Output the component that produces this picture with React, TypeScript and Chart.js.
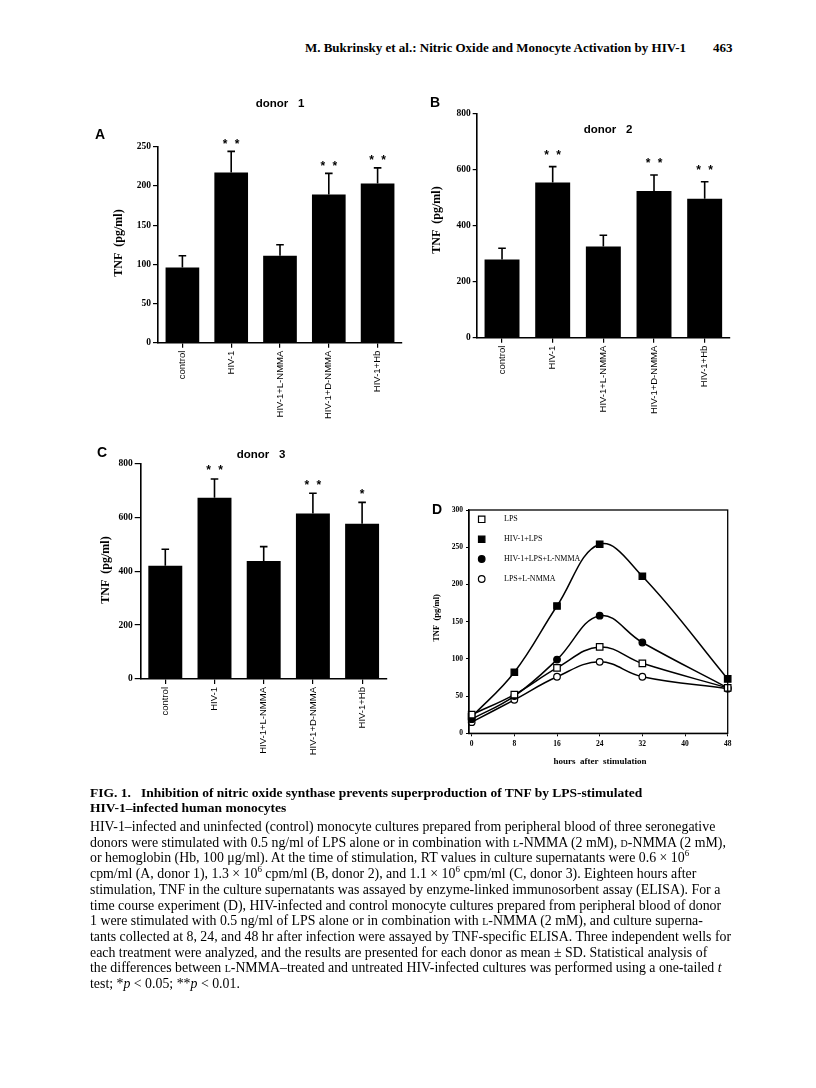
import React, { useEffect, useRef } from "react";
import { Chart, registerables } from "chart.js";

Chart.register(...registerables);

// ---------- data ----------
const categories = ["control", "HIV-1", "HIV-1+L-NMMA", "HIV-1+D-NMMA", "HIV-1+Hb"];

const donor1Values = [96, 217, 111, 189, 203];
const donor1Errors = [15, 27, 14, 27, 20];
const donor1Stars = ["", "**", "", "**", "**"];

const donor2Values = [279, 553, 325, 523, 495];
const donor2Errors = [40, 57, 40, 57, 61];
const donor2Stars = ["", "**", "", "**", "**"];

const donor3Values = [420, 672, 438, 614, 576];
const donor3Errors = [61, 70, 53, 75, 79];
const donor3Stars = ["", "**", "", "**", "*"];

const yTicksA = [0, 50, 100, 150, 200, 250];
const yTicksBC = [0, 200, 400, 600, 800];

const hours = [0, 8, 16, 24, 32, 48];
const lpsSeries = [25, 52, 88, 116, 94, 61];
const hivLpsSeries = [22, 82, 171, 254, 211, 73];
const hivLpsLnmmaSeries = [19, 50, 99, 158, 122, 61];
const lpsLnmmaSeries = [15, 45, 76, 96, 76, 60];
const seriesLabels = ["LPS", "HIV-1+LPS", "HIV-1+LPS+L-NMMA", "LPS+L-NMMA"];
const xTicksD = [0, 8, 16, 24, 32, 40, 48];
const yTicksD = [0, 50, 100, 150, 200, 250, 300];

const SERIF = '"Liberation Serif", "Times New Roman", serif';
const SANS = '"Liberation Sans", Arial, sans-serif';

type Box = { left: number; top: number; width: number; height: number };

type BarPanelProps = {
  box: Box;
  yAxisWidth: number;
  padTop: number;
  padRight: number;
  xAxisHeight: number;
  values: number[];
  errors: number[];
  stars: string[];
  yMax: number;
  yTicks: number[];
  tickLength: number;
  starOffset: number;
  letter: [string, number, number];
  title: [string, number, number];
  yTitle: [number, number];
};

function BarPanel(p: BarPanelProps) {
  const ref = useRef<HTMLCanvasElement | null>(null);
  useEffect(() => {
    if (!ref.current) return;
    const ox = p.box.left;
    const oy = p.box.top;
    const decor = {
      id: "barDecor",
      afterDatasetsDraw(chart: any) {
        const ctx = chart.ctx;
        const meta = chart.getDatasetMeta(0);
        const yScale = chart.scales.y;
        ctx.save();
        ctx.strokeStyle = "#000";
        ctx.fillStyle = "#000";
        ctx.lineWidth = 1.6;
        meta.data.forEach((bar: any, i: number) => {
          const x = bar.x;
          const yTop = bar.y;
          const yErr = yScale.getPixelForValue(p.values[i] + p.errors[i]);
          ctx.beginPath();
          ctx.moveTo(x, yTop);
          ctx.lineTo(x, yErr);
          ctx.moveTo(x - 3.8, yErr);
          ctx.lineTo(x + 3.8, yErr);
          ctx.stroke();
          const s = p.stars[i];
          if (s) {
            ctx.font = `bold 12px ${SANS}`;
            ctx.textAlign = "center";
            ctx.textBaseline = "middle";
            const sy = yErr - p.starOffset;
            if (s.length === 1) ctx.fillText("*", x, sy);
            else {
              ctx.fillText("*", x - 6, sy);
              ctx.fillText("*", x + 6, sy);
            }
          }
        });
        // panel letter
        ctx.font = `bold 14px ${SANS}`;
        ctx.textAlign = "center";
        ctx.textBaseline = "middle";
        ctx.fillText(p.letter[0], p.letter[1] - ox, p.letter[2] - oy);
        // title
        ctx.font = `bold 11.5px ${SANS}`;
        ctx.fillText(p.title[0], p.title[1] - ox, p.title[2] - oy);
        // y title
        ctx.save();
        ctx.translate(p.yTitle[0] - ox, p.yTitle[1] - oy);
        ctx.rotate(-Math.PI / 2);
        ctx.font = `bold 12px ${SERIF}`;
        ctx.fillText("TNF  (pg/ml)", 0, 0);
        ctx.restore();
        ctx.restore();
      },
    };
    const chart = new Chart(ref.current, {
      type: "bar",
      data: {
        labels: categories,
        datasets: [
          {
            data: p.values,
            backgroundColor: "#000",
            borderWidth: 0,
            barPercentage: 0.69,
            categoryPercentage: 1,
          },
        ],
      },
      options: {
        animation: false,
        responsive: false,
        devicePixelRatio: 1,
        layout: { padding: { left: 0, top: p.padTop, right: p.padRight, bottom: 0 } },
        plugins: { legend: { display: false }, tooltip: { enabled: false }, title: { display: false } },
        scales: {
          x: {
            type: "category",
            offset: true,
            grid: {
              display: true,
              offset: false,
              drawOnChartArea: false,
              drawTicks: true,
              tickLength: 5,
              color: "#000",
              lineWidth: 1.2,
            },
            border: { display: true, color: "#000", width: 1.6 },
            ticks: {
              autoSkip: false,
              minRotation: 90,
              maxRotation: 90,
              padding: 3,
              color: "#000",
              font: { family: SANS, size: 9.5 },
            },
            afterFit: (s: any) => {
              s.height = p.xAxisHeight;
            },
          },
          y: {
            min: 0,
            max: p.yMax,
            afterBuildTicks: (s: any) => {
              s.ticks = p.yTicks.map((v) => ({ value: v }));
            },
            grid: {
              display: true,
              drawOnChartArea: false,
              drawTicks: true,
              tickLength: p.tickLength,
              color: "#000",
              lineWidth: 1.2,
            },
            border: { display: true, color: "#000", width: 1.6 },
            ticks: {
              padding: 2,
              color: "#000",
              font: { family: SERIF, size: 9.5, weight: "bold" },
            },
            afterFit: (s: any) => {
              s.width = p.yAxisWidth;
            },
          },
        },
      } as any,
      plugins: [decor],
    });
    return () => chart.destroy();
  }, []);
  return (
    <canvas
      ref={ref}
      width={p.box.width}
      height={p.box.height}
      style={{ position: "absolute", left: p.box.left, top: p.box.top, width: p.box.width, height: p.box.height }}
    />
  );
}

function LinePanel() {
  const ref = useRef<HTMLCanvasElement | null>(null);
  const box: Box = { left: 430, top: 500, width: 330, height: 290 };
  useEffect(() => {
    if (!ref.current) return;
    const ox = box.left;
    const oy = box.top;
    const styles = [
      { style: "rect", fill: "#fff", r: 4.6 },
      { style: "rect", fill: "#000", r: 4.6 },
      { style: "circle", fill: "#000", r: 3.3 },
      { style: "circle", fill: "#fff", r: 3.3 },
    ];
    const seriesData = [lpsSeries, hivLpsSeries, hivLpsLnmmaSeries, lpsLnmmaSeries];
    const decor = {
      id: "lineDecor",
      afterDraw(chart: any) {
        const ctx = chart.ctx;
        const a = chart.chartArea;
        ctx.save();
        ctx.strokeStyle = "#000";
        ctx.fillStyle = "#000";
        ctx.lineWidth = 1.3;
        ctx.strokeRect(a.left, a.top, a.right - a.left, a.bottom - a.top);
        // legend
        const rows = [519.3, 539.3, 559, 579];
        chart.data.datasets.forEach((ds: any, i: number) => {
          const mx = 481.7 - ox;
          const my = rows[i] - oy;
          const st = styles[i];
          ctx.lineWidth = 1.2;
          ctx.beginPath();
          if (st.style === "rect") {
            ctx.rect(mx - 3.2, my - 3.2, 6.4, 6.4);
          } else {
            ctx.arc(mx, my, st.r, 0, Math.PI * 2);
          }
          ctx.fillStyle = st.fill;
          ctx.fill();
          ctx.stroke();
          ctx.fillStyle = "#000";
          ctx.font = `8px ${SERIF}`;
          ctx.textAlign = "left";
          ctx.textBaseline = "middle";
          ctx.fillText(ds.label, 504 - ox, my);
        });
        // letter
        ctx.font = `bold 14px ${SANS}`;
        ctx.textAlign = "center";
        ctx.textBaseline = "middle";
        ctx.fillText("D", 437 - ox, 510 - oy);
        // x title
        ctx.font = `bold 9px ${SERIF}`;
        ctx.fillText("hours  after  stimulation", 600 - ox, 762 - oy);
        // y title
        ctx.save();
        ctx.translate(437 - ox, 618 - oy);
        ctx.rotate(-Math.PI / 2);
        ctx.font = `bold 8.5px ${SERIF}`;
        ctx.fillText("TNF  (pg/ml)", 0, 0);
        ctx.restore();
        ctx.restore();
      },
    };
    const chart = new Chart(ref.current, {
      type: "line",
      data: {
        datasets: seriesData.map((s, i) => ({
          label: seriesLabels[i],
          data: hours.map((h, j) => ({ x: h, y: s[j] })),
          borderColor: "#000",
          borderWidth: 1.5,
          tension: 0.4,
          fill: false,
          clip: false,
          pointStyle: styles[i].style,
          pointRadius: styles[i].r,
          pointBackgroundColor: styles[i].fill,
          pointBorderColor: "#000",
          pointBorderWidth: 1.2,
        })),
      },
      options: {
        animation: false,
        responsive: false,
        devicePixelRatio: 1,
        layout: { padding: { left: 0, top: 10, right: 32.3, bottom: 0 } },
        plugins: { legend: { display: false }, tooltip: { enabled: false } },
        scales: {
          x: {
            type: "linear",
            min: -0.5,
            max: 48,
            afterBuildTicks: (s: any) => {
              s.ticks = xTicksD.map((v) => ({ value: v }));
            },
            grid: { display: true, drawOnChartArea: false, drawTicks: true, tickLength: 3, color: "#000", lineWidth: 1 },
            border: { display: true, color: "#000", width: 1.3 },
            ticks: { padding: 3, color: "#000", maxRotation: 0, font: { family: SERIF, size: 7.5, weight: "bold" } },
            afterFit: (s: any) => {
              s.height = 56.7;
            },
          },
          y: {
            type: "linear",
            min: 0,
            max: 300,
            afterBuildTicks: (s: any) => {
              s.ticks = yTicksD.map((v) => ({ value: v }));
            },
            grid: { display: true, drawOnChartArea: false, drawTicks: true, tickLength: 3, color: "#000", lineWidth: 1 },
            border: { display: true, color: "#000", width: 1.3 },
            ticks: { padding: 3, color: "#000", font: { family: SERIF, size: 7.5, weight: "bold" } },
            afterFit: (s: any) => {
              s.width = 39;
            },
          },
        },
      } as any,
      plugins: [decor],
    });
    return () => chart.destroy();
  }, []);
  return (
    <canvas
      ref={ref}
      width={box.width}
      height={box.height}
      style={{ position: "absolute", left: box.left, top: box.top, width: box.width, height: box.height }}
    />
  );
}

const sc = (t: string) => <span style={{ fontVariant: "small-caps" }}>{t}</span>;
const sup = (t: string) => (
  <span style={{ fontSize: "9px", verticalAlign: "super", lineHeight: 0 }}>{t}</span>
);

const captionLines: React.ReactNode[] = [
  <>HIV-1–infected and uninfected (control) monocyte cultures prepared from peripheral blood of three seronegative</>,
  <>donors were stimulated with 0.5 ng/ml of LPS alone or in combination with {sc("l")}-NMMA (2 mM), {sc("d")}-NMMA (2 mM),</>,
  <>or hemoglobin (Hb, 100 μg/ml). At the time of stimulation, RT values in culture supernatants were 0.6 × 10{sup("6")}</>,
  <>cpm/ml (A, donor 1), 1.3 × 10{sup("6")} cpm/ml (B, donor 2), and 1.1 × 10{sup("6")} cpm/ml (C, donor 3). Eighteen hours after</>,
  <>stimulation, TNF in the culture supernatants was assayed by enzyme-linked immunosorbent assay (ELISA). For a</>,
  <>time course experiment (D), HIV-infected and control monocyte cultures prepared from peripheral blood of donor</>,
  <>1 were stimulated with 0.5 ng/ml of LPS alone or in combination with {sc("l")}-NMMA (2 mM), and culture superna-</>,
  <>tants collected at 8, 24, and 48 hr after infection were assayed by TNF-specific ELISA. Three independent wells for</>,
  <>each treatment were analyzed, and the results are presented for each donor as mean ± SD. Statistical analysis of</>,
  <>the differences between {sc("l")}-NMMA–treated and untreated HIV-infected cultures was performed using a one-tailed <i>t</i></>,
  <>test; *<i>p</i> &lt; 0.05; **<i>p</i> &lt; 0.01.</>,
];

export default function App() {
  return (
    <div
      style={{
        position: "absolute",
        left: 0,
        top: 0,
        width: 816,
        height: 1088,
        background: "#fff",
        color: "#000",
        fontFamily: SERIF,
        overflow: "hidden",
      }}
    >
      <div
        style={{
          position: "absolute",
          right: 130,
          top: 40,
          fontSize: 13,
          lineHeight: "15px",
          fontWeight: "bold",
          whiteSpace: "nowrap",
        }}
      >
        M. Bukrinsky et al.: Nitric Oxide and Monocyte Activation by HIV-1
      </div>
      <div style={{ position: "absolute", left: 713, top: 40, fontSize: 13, lineHeight: "15px", fontWeight: "bold" }}>463</div>

      <BarPanel
        box={{ left: 90, top: 80, width: 320, height: 350 }}
        yAxisWidth={68}
        padTop={66.7}
        padRight={8}
        xAxisHeight={87.3}
        values={donor1Values}
        errors={donor1Errors}
        stars={donor1Stars}
        yMax={250}
        yTicks={yTicksA}
        tickLength={5}
        starOffset={7}
        letter={["A", 100, 135]}
        title={["donor   1", 280, 104]}
        yTitle={[119, 243]}
      />
      <BarPanel
        box={{ left: 410, top: 80, width: 340, height: 340 }}
        yAxisWidth={66.7}
        padTop={33.3}
        padRight={20}
        xAxisHeight={82.3}
        values={donor2Values}
        errors={donor2Errors}
        stars={donor2Stars}
        yMax={800}
        yTicks={yTicksBC}
        tickLength={4}
        starOffset={11}
        letter={["B", 435, 103]}
        title={["donor   2", 608, 130]}
        yTitle={[437, 220]}
      />
      <BarPanel
        box={{ left: 90, top: 420, width: 320, height: 360 }}
        yAxisWidth={50.7}
        padTop={43.3}
        padRight={23.3}
        xAxisHeight={101}
        values={donor3Values}
        errors={donor3Errors}
        stars={donor3Stars}
        yMax={800}
        yTicks={yTicksBC}
        tickLength={6}
        starOffset={8}
        letter={["C", 102, 453]}
        title={["donor   3", 261, 455]}
        yTitle={[106, 570]}
      />
      <LinePanel />

      <div style={{ position: "absolute", left: 90, top: 785, fontSize: 13.5, lineHeight: "15px", fontWeight: "bold", whiteSpace: "nowrap" }}>
        FIG. 1.&nbsp;&nbsp; Inhibition of nitric oxide synthase prevents superproduction of TNF by LPS-stimulated
      </div>
      <div style={{ position: "absolute", left: 90, top: 800, fontSize: 13.5, lineHeight: "15px", fontWeight: "bold", whiteSpace: "nowrap" }}>
        HIV-1–infected human monocytes
      </div>
      {captionLines.map((ln, i) => (
        <div
          key={i}
          style={{
            position: "absolute",
            left: 90,
            top: 819 + i * 15.7,
            fontSize: 13.85,
            lineHeight: "15.7px",
            whiteSpace: "nowrap",
          }}
        >
          {ln}
        </div>
      ))}
    </div>
  );
}
